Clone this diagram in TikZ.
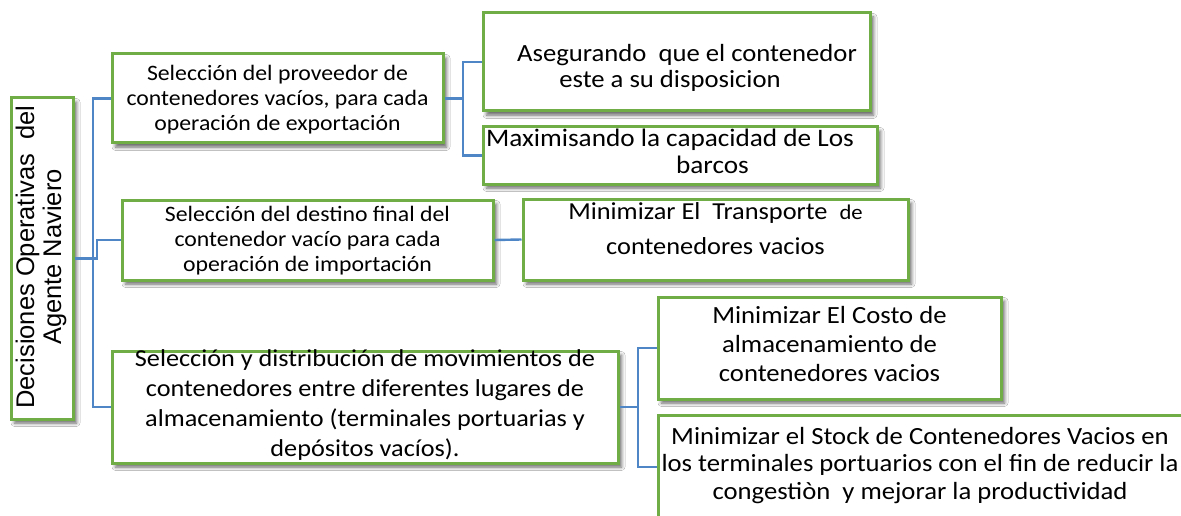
\documentclass[tikz,border=0pt]{standalone}
\usepackage{fontspec}
\usetikzlibrary{shadows.blur}
\newfontfamily\calfont[FakeStretch=1.08]{Carlito}
\newfontfamily\arifont{Liberation Sans}
\newcommand\myfs[2]{\fontsize{#1}{#2}\selectfont}
\definecolor{boxgreen}{HTML}{70AD47}
\definecolor{linkblue}{HTML}{4F86C6}
\tikzset{
  box/.style={draw=boxgreen, line width=3pt, fill=white, rectangle, inner sep=0pt,
    blur shadow={shadow xshift=3.5pt, shadow yshift=-4pt, shadow blur radius=3.5pt, shadow opacity=60}},
  txt/.style={align=center, inner sep=0pt, text=black},
  link/.style={draw=linkblue, line width=2.4pt},
}
\begin{document}
\begin{tikzpicture}[x=1pt,y=-1pt]
\useasboundingbox (0,0) rectangle (1181,516);
\clip (0,0) rectangle (1181,516);
\fill[white] (0,0) rectangle (1181,516);

% boxes
\node[box, minimum width=62pt,  minimum height=321pt] (L) at (42,258.5) {};
\node[box, minimum width=331pt, minimum height=89pt]  (A) at (277.5,98.5) {};
\node[box, minimum width=387pt, minimum height=98pt]  (B) at (676.5,62) {};
\node[box, minimum width=394pt, minimum height=57pt]  (C) at (680,155.5) {};
\node[box, minimum width=371pt, minimum height=80pt]  (D) at (307.5,240) {};
\node[box, minimum width=385pt, minimum height=81pt]  (E) at (715.5,239.5) {};
\node[box, minimum width=506pt, minimum height=112pt] (F) at (365,407) {};
\node[box, minimum width=343pt, minimum height=102pt] (G) at (829.5,348) {};
\node[box, minimum width=537pt, minimum height=104pt] (H) at (926.5,467) {};

% connectors
\coordinate (jL) at (93,258.5);
\coordinate (jD) at (97,258.5);
\coordinate (jA) at (463,98.5);
\coordinate (jF) at (638,407);
\draw[link] (L.east) -- (jL) |- (A.west);
\draw[link] (jL) |- (F.west);
\draw[link] (L.east) -- (jD) |- (D.west);
\draw[link] (A.east) -- (jA) |- (B.west);
\draw[link] (jA) |- (C.west);
\draw[link] (D.east) -- (E.west);
\draw[link] (F.east) -- (jF) |- (G.west);
\draw[link] (jF) |- (H.west);

% texts
\node[txt, rotate=90, font=\arifont\myfs{25.5}{27}] (tL) at (41,257)
  {Decisiones Operativas\ \ del\\Agente Naviero};
\node[txt, font=\calfont\myfs{22}{25}] (tA) at (277.5,99.3)
  {Selección del proveedor de\\contenedores vacíos, para cada\\operación de exportación};
\node[txt, font=\calfont\myfs{24.7}{26.3}] (tB) at (678,68)
  {\hspace*{18pt}Asegurando\ \ que el contenedor\\este a su disposicion\hspace*{16pt}};
\node[txt, font=\calfont\myfs{25.2}{26.7}] (tC) at (670,151.5)
  {Maximisando la capacidad de Los\\\hspace*{85pt}barcos};
\node[txt, font=\calfont\myfs{22}{25}] (tD) at (307.5,240.9)
  {Selección del destino final del\\contenedor vacío para cada\\operación de importación};
\node[txt, font=\calfont\myfs{24.4}{35}] (tE) at (715.5,228.8)
  {Minimizar El\ \ Transporte\ \ {\fontsize{21}{21}\selectfont de}\\contenedores vacios};
\node[txt, font=\calfont\myfs{24.3}{30}] (tF) at (365,405)
  {Selección y distribución de movimientos de\\contenedores entre diferentes lugares de\\almacenamiento (terminales portuarias y\\depósitos vacíos).};
\node[txt, font=\calfont\myfs{24.7}{29.2}] (tG) at (829.5,343.9)
  {Minimizar El Costo de\\almacenamiento de\\contenedores vacios};
\node[txt, font=\calfont\myfs{24.7}{27.5}] (tH) at (920,465.4)
  {Minimizar el Stock de Contenedores Vacios en\\los terminales portuarios con el fin de reducir la\\congestiòn\ \ y mejorar la productividad};
\end{tikzpicture}
\end{document}
